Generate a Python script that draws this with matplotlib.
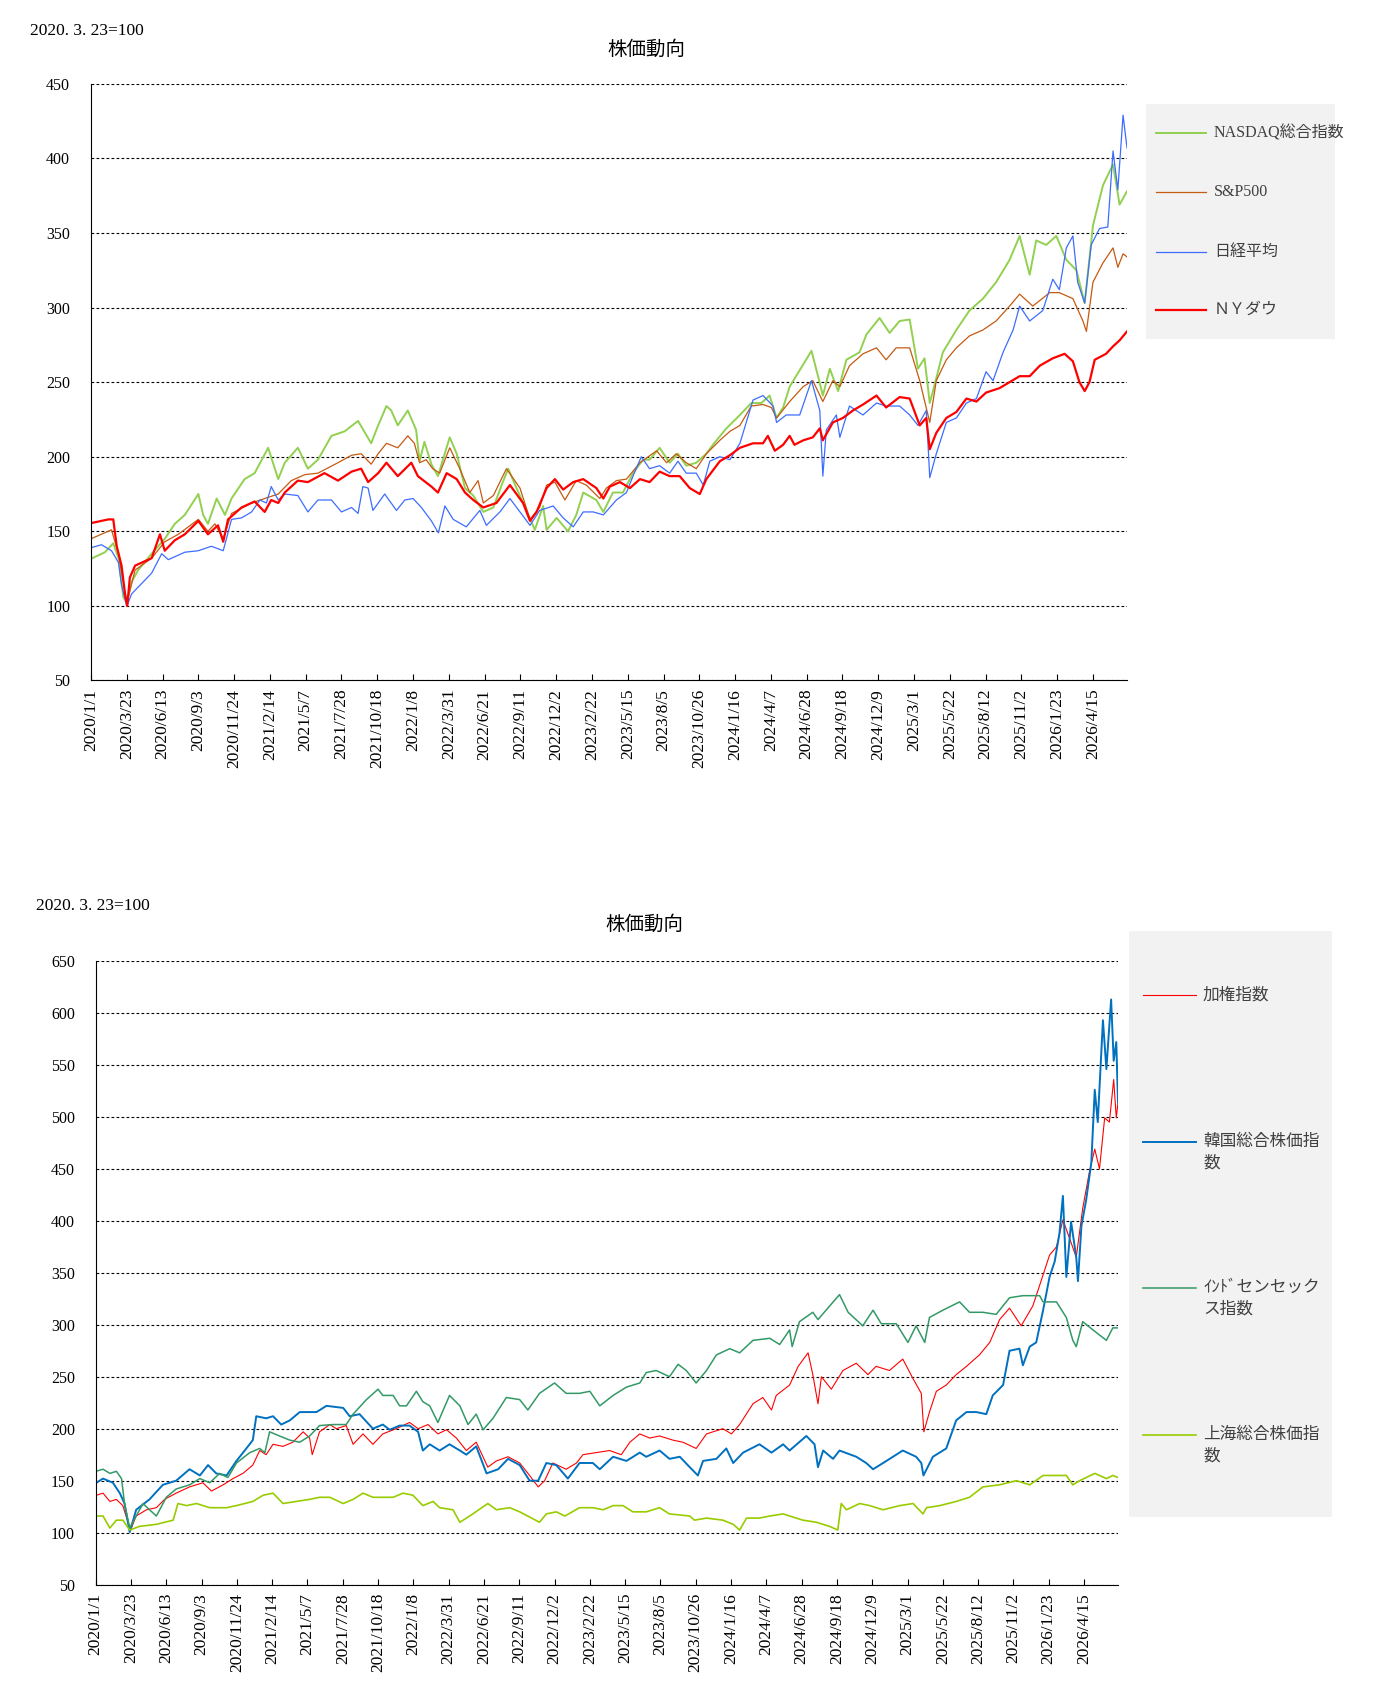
import numpy as np
import pandas as pd
import matplotlib
matplotlib.use('Agg')
import matplotlib.pyplot as plt
from matplotlib.lines import Line2D
from matplotlib.patches import Rectangle

plt.rcParams['font.family'] = ['Liberation Serif', 'Noto Sans CJK JP', 'DejaVu Sans']

W, H = 1378, 1685
BASE = pd.Timestamp('2020-01-01')

# (days since 2020/1/1, index with 2020/3/23 = 100)
nasdaq = [(0,131.6),(32,136),(51,142),(63,132),(74,106),(82,102),(93,116),(108,124),(139,135),(169,145),(192,155),(215,161),(246,175),(257,161),(268,155),(288,172),(307,161),(322,172),(352,185),(375,189),(406,206),(429,185),(444,196),(474,206),(497,192),(520,198),(551,214),(581,217),(612,224),(642,209),(658,221),(677,234),(688,231),(703,221),(726,231),(745,218),(753,197),(764,210),(780,195),(795,187),
          (822,213),(838,202),(857,179),(876,174),(899,163),(922,166),(941,181),(956,192),(975,179),(998,164),(1017,151),(1036,167),(1044,151),(1067,159),(1093,150),(1112,161),(1128,176),(1158,171),(1174,163),(1196,176),(1219,176),(1242,189),(1265,198),(1280,198),(1303,206),(1326,196),(1345,202),(1364,194),(1387,196),(1410,202),(1425,208),(1456,219),(1487,228),(1513,236),(1536,236),(1555,241),(1571,226),(1586,233),(1601,247),
          (1624,258),(1651,271),(1666,254),(1677,241),(1693,259),(1712,244),(1731,265),(1761,270),(1777,282),(1807,293),(1830,283),(1853,291),(1876,292),(1895,259),(1910,266),(1922,236),(1933,248),(1952,270),(1983,285),(2013,298),(2044,306),(2074,317),(2105,332),(2128,348),(2151,322),(2166,345),(2189,342),(2212,348),(2235,332),(2258,325),(2277,303),(2296,355),(2319,382),(2342,396),(2357,369),(2374,378)]

sp500 = [(0,145),(47,151),(63,135),(82,102),(101,124),(139,132),(169,143),(200,148),(246,158),(268,150),(284,155),(303,145),(322,162),(368,169),(398,172),(429,175),(459,184),(490,188),(520,189),(566,196),(597,201),(619,202),(642,195),(658,202),(677,209),(703,206),(726,214),(741,209),(753,196),(768,198),(783,192),
         (799,189),(822,206),(845,192),(868,176),(887,184),(899,169),(922,174),(952,192),(983,179),(1006,158),(1028,166),(1044,181),(1063,183),(1086,171),(1112,184),(1135,181),(1166,172),(1181,179),(1204,184),(1227,185),(1258,196),(1296,204),(1319,196),(1341,202),(1364,196),(1387,192),(1410,202),(1441,211),(1464,217),(1487,221),(1513,234),(1540,235),(1559,233),(1571,226),(1593,234),
         (1601,237),(1632,247),(1654,251),(1677,237),(1700,251),(1716,247),(1738,261),(1769,269),(1800,273),(1822,265),(1845,273),(1876,273),(1899,251),(1922,223),(1937,251),(1960,265),(1983,273),(2013,281),(2044,285),(2074,291),(2105,301),(2128,309),(2158,301),(2197,310),(2219,310),(2250,306),(2273,291),(2281,284),(2296,317),(2319,330),(2342,340),(2353,327),(2365,336),(2374,334)]

nikkei = [(0,139),(24,141),(47,137),(63,129),(70,114),(82,99.6),(93,108),(116,115),(139,122),(162,135),(177,131),(215,136),(246,137),(276,140),(303,137),(322,158),(345,159),(368,163),(387,171),(402,169),(413,180),(429,171),(444,175),(474,174),(497,163),(520,171),(551,171),(574,163),(597,166),(612,162),(623,180),(635,179),(646,164),(673,175),(700,164),(719,171),(738,172),(757,166),(780,157),(796,149),
          (811,167),(830,158),(860,153),(891,164),(906,154),(937,163),(960,172),(983,163),(1006,154),(1028,164),(1059,167),(1082,159),(1105,153),(1128,163),(1151,163),(1174,161),(1204,171),(1227,176),(1242,187),(1261,200),(1280,192),(1303,194),(1326,189),(1345,197),(1364,189),(1387,189),(1403,181),(1418,197),(1441,200),(1464,198),(1487,209),(1517,238),(1540,241),(1563,234),(1571,223),(1593,228),
          (1624,228),(1651,251),(1670,231),(1677,187),(1685,218),(1708,228),(1716,213),(1738,234),(1769,228),(1800,236),(1822,234),(1853,234),(1876,228),(1895,221),(1914,231),(1922,186),(1937,202),(1960,223),(1983,226),(2006,236),(2029,239),(2051,257),(2067,251),(2090,270),(2113,285),(2128,301),(2151,291),(2181,298),(2204,319),(2219,312),(2235,340),(2250,348),(2261,317),(2277,303),(2292,342),(2311,353),(2330,354),(2342,405),(2353,379),(2365,429),(2374,407)]

nydow = [(0,155.5),(40,158),(51,158),(59,140),(70,127),(78,108),(83,100),(89,119),(101,127),(139,132),(158,148),(169,137),(192,144),(215,148),(246,157),(268,148),(291,154),(303,143),(314,158),(345,166),(375,170),(398,163),(413,171),(429,169),(444,176),(474,184),(497,183),(535,189),(566,184),(597,190),(619,192),(635,183),(658,189),(677,196),(703,187),(734,196),(749,187),(780,180),(795,176),
         (815,189),(838,185),(857,176),(876,171),(899,166),(929,169),(960,181),(990,169),(1006,157),(1021,163),(1044,179),(1063,185),(1082,178),(1105,183),(1128,185),(1158,179),(1174,172),(1189,180),(1212,183),(1235,179),(1258,185),(1280,183),(1303,190),(1326,187),(1349,187),(1372,179),(1395,175),(1410,185),(1441,197),(1464,201),(1487,206),(1517,209),(1540,209),(1551,214),(1567,204),(1586,208),(1601,214),
         (1612,208),(1632,211),(1654,213),(1670,219),(1677,211),(1700,223),(1723,226),(1746,231),(1769,235),(1800,241),(1822,233),(1853,240),(1876,239),(1899,221),(1914,226),(1922,205),(1937,216),(1960,226),(1983,230),(2006,239),(2029,237),(2051,243),(2082,246),(2105,250),(2128,254),(2151,254),(2174,261),(2204,266),(2231,269),(2250,264),(2265,250),(2277,244),(2288,250),(2300,265),(2326,269),(2342,274),(2357,278),(2374,284)]

taiex = [(0,135.8),(17,138),(33,130),(48,132),(63,126),(75,110),(81,102.5),(94,116),(118,122),(141,124),(160,132),(187,138),(218,144),(249,148),(269,140),(296,146),(319,152),(342,157),(365,165),(381,179),(396,175),(412,185),(435,183),(458,187),(482,197),(497,191),(503,175),(520,197),(544,204),(559,200),(582,203),(598,185),(621,195),(644,185),(667,195),(698,200),(729,206),(749,200),(772,204),(795,195),
         (815,199),(838,191),(861,179),(884,187),(911,163),(931,169),(958,173),(985,167),(1008,155),(1028,144),(1043,150),(1062,167),(1093,161),(1117,167),(1132,175),(1163,177),(1194,179),(1221,175),(1241,187),(1264,195),(1287,191),(1310,193),(1341,189),(1364,187),(1395,181),(1419,195),(1457,200),(1477,195),(1496,204),(1527,224),(1550,230),(1570,218),(1581,232),
         (1612,242),(1632,260),(1655,273),(1666,252),(1678,224),(1686,250),(1709,238),(1736,256),(1767,263),(1794,252),(1813,260),(1844,256),(1875,267),(1899,248),(1918,234),(1924,197),(1937,216),(1953,236),(1976,242),(1999,252),(2023,260),(2053,271),(2077,283),(2100,305),(2123,316),(2150,299),(2177,318),(2193,338),(2216,367),(2232,375),(2247,401),(2266,379),(2278,365),(2293,412),(2309,448),(2321,469),(2332,450),(2344,499),(2355,495),(2365,536),(2371,499),(2375,514)]

kospi = [(0,147.6),(17,152),(40,148),(56,138),(67,128),(79,100.5),(94,122),(125,132),(156,146),(187,150),(218,161),(242,155),(261,165),(280,157),(304,155),(327,169),(350,181),(365,189),(373,212),(396,210),(412,212),(431,204),(451,208),(474,216),(513,216),(536,222),(575,220),(590,212),(613,214),(644,200),(667,204),(683,199),(706,203),(729,203),(749,197),(760,179),(776,185),(799,179),
         (822,185),(846,179),(861,175),(884,183),(908,157),(935,161),(958,171),(985,165),(1008,150),(1028,150),(1047,167),(1070,165),(1097,152),(1124,167),(1155,167),(1171,161),(1202,173),(1233,169),(1264,177),(1279,173),(1310,179),(1333,171),(1357,173),(1380,163),(1399,155),(1411,169),(1442,171),(1465,181),(1481,167),(1504,177),(1542,185),(1570,177),(1597,185),
         (1612,179),(1651,193),(1670,185),(1678,163),(1690,179),(1713,171),(1728,179),(1767,173),(1790,167),(1806,161),(1837,169),(1875,179),(1906,173),(1918,167),(1923,155),(1945,173),(1976,181),(1999,208),(2023,216),(2046,216),(2069,214),(2084,232),(2108,242),(2123,275),(2146,277),(2154,261),(2170,279),(2185,283),(2201,314),(2216,346),(2228,361),(2239,388),(2247,424),(2255,346),(2266,399),(2278,365),(2282,342),(2290,395),(2301,420),(2313,456),(2321,526),(2328,495),(2340,593),(2348,546),(2359,613),(2365,554),(2371,572),(2375,514)]

sensex = [(0,159),(17,161),(33,157),(48,159),(60,152),(67,128),(79,104.4),(94,116),(110,128),(125,122),(141,116),(164,134),(187,142),(218,146),(242,152),(265,148),(288,157),(307,153),(327,167),(358,177),(381,181),(393,177),(404,197),(427,193),(451,189),(474,187),(497,193),(520,203),(551,204),(582,204),(598,214),(629,228),(656,238),(667,232),(691,232),(706,222),(722,222),(745,236),(760,226),(776,222),(795,206),
          (822,232),(846,222),(865,204),(884,214),(900,199),(923,210),(954,230),(985,228),(1004,218),(1031,234),(1066,244),(1093,234),(1124,234),(1148,236),(1171,222),(1202,232),(1233,240),(1264,244),(1279,254),(1302,256),(1333,250),(1353,262),(1372,256),(1395,244),(1419,256),(1442,271),(1473,277),(1496,273),(1527,285),(1566,287),(1589,281),
          (1612,295),(1618,279),(1635,303),(1666,312),(1678,305),(1705,318),(1728,329),(1748,312),(1782,299),(1806,314),(1825,301),(1860,301),(1887,283),(1906,299),(1926,283),(1937,307),(1968,314),(2007,322),(2030,312),(2061,312),(2092,310),(2123,326),(2154,328),(2193,328),(2201,322),(2232,322),(2255,307),(2270,285),(2278,279),(2293,303),(2317,295),(2348,285),(2363,297),(2375,297)]

shanghai = [(0,116),(17,116),(33,104.4),(48,112),(63,112),(79,102.5),(102,106),(141,108),(180,112),(191,128),(211,126),(234,128),(265,124),(304,124),(327,126),(365,130),(389,136),(412,138),(435,128),(466,130),(497,132),(520,134),(544,134),(575,128),(598,132),(621,138),(644,134),(667,134),(691,134),(714,138),(737,136),(760,126),(784,130),
            (799,124),(830,122),(846,110),(869,116),(911,128),(931,122),(962,124),(985,120),(1031,110),(1047,118),(1070,120),(1090,116),(1124,124),(1155,124),(1179,122),(1202,126),(1225,126),(1248,120),(1279,120),(1310,124),(1333,118),(1380,116),(1391,112),(1419,114),(1457,112),(1481,108),(1496,102.5),(1512,114),(1542,114),(1566,116),(1597,118),
            (1612,116),(1643,112),(1674,110),(1705,106),(1724,102.5),(1732,128),(1744,122),(1775,128),(1798,126),(1829,122),(1868,126),(1899,128),(1922,118),(1930,124),(1961,126),(1999,130),(2030,134),(2061,144),(2100,146),(2139,150),(2170,146),(2201,155),(2232,155),(2255,155),(2270,146),(2286,150),(2321,157),(2348,152),(2363,155),(2375,153)]

top_series = [('NASDAQ総合指数', nasdaq, '#92d050', 1.4),
              ('S&P500', sp500, '#c55a11', 0.9),
              ('日経平均', nikkei, '#3d6dff', 0.9),
              ('ＮＹダウ', nydow, '#ff0000', 1.6)]
bottom_series = [('加権指数', taiex, '#ff0000', 0.8),
                 ('韓国総合株価指\n数', kospi, '#0070c0', 1.4),
                 ('ｲﾝﾄﾞセンセック\nス指数', sensex, '#339966', 1.1),
                 ('上海総合株価指\n数', shanghai, '#99cc00', 1.2)]

tick_dates = pd.date_range('2020-01-01', periods=29, freq='82D')


def fx(x):
    return x / W


def fy(y):
    return 1 - y / H


def unpack(pairs):
    d, v = zip(*pairs)
    return BASE + pd.to_timedelta(list(d), unit='D'), np.array(v)


def draw_chart(rect, series, ymax, xend):
    ax = fig.add_axes(rect)
    for label, pairs, color, lw in series:
        x, y = unpack(pairs)
        ax.plot(x, y, color=color, lw=lw)
    ax.set_ylim(50, ymax)
    ax.set_yticks(range(50, ymax + 1, 50))
    ax.set_xlim(BASE, BASE + pd.Timedelta(days=xend))
    ax.set_xticks(tick_dates)
    ax.set_xticklabels([f'{d.year}/{d.month}/{d.day}' for d in tick_dates], rotation=90)
    ax.grid(axis='y', color='black', linestyle=(0, (2.5, 2)), linewidth=0.8)
    ax.set_axisbelow(True)
    for s in ['top', 'right']:
        ax.spines[s].set_visible(False)
    ax.tick_params(axis='x', direction='in', length=4, pad=6, labelsize=12.5)
    ax.tick_params(axis='y', length=0, pad=15, labelsize=11.5)
    return ax


def draw_legend(box, series, line_x, text_x, ys, fs):
    x0, y0, x1, y1 = box
    fig.add_artist(Rectangle((fx(x0), fy(y1)), fx(x1) - fx(x0), fy(y0) - fy(y1),
                             transform=fig.transFigure, facecolor='#f2f2f2', edgecolor='none'))
    for (label, pairs, color, lw), y in zip(series, ys):
        fig.add_artist(Line2D([fx(line_x[0]), fx(line_x[1])], [fy(y), fy(y)],
                              transform=fig.transFigure, color=color, lw=lw))
        for i, part in enumerate(label.split('\n')):
            fig.text(fx(text_x), fy(y + i * 21.5), part, va='center', fontsize=fs, color='#404040')


fig = plt.figure(figsize=(W / 100, H / 100), dpi=100)

# upper chart
draw_chart([fx(91), fy(680.5), fx(1127) - fx(91), fy(83.8) - fy(680.5)], top_series, 450, 2374)
fig.text(fx(30), fy(31), '2020. 3. 23=100', va='center', fontsize=12.5)
fig.text(fx(646), fy(49.5), '株価動向', ha='center', va='center', fontsize=14)
draw_legend((1146, 104, 1335, 339), top_series, (1156, 1206), 1214, (133, 192, 252, 310), 11.5)

# lower chart
draw_chart([fx(95.7), fy(1584.6), fx(1118) - fx(95.7), fy(961) - fy(1584.6)], bottom_series, 650, 2375)
fig.text(fx(36.5), fy(906), '2020. 3. 23=100', va='center', fontsize=12.5)
fig.text(fx(644), fy(924.5), '株価動向', ha='center', va='center', fontsize=14)
draw_legend((1129, 931, 1332, 1517), bottom_series, (1143, 1196), 1203, (995.5, 1141.6, 1287.8, 1435), 12)

fig.savefig('out.png', dpi=100)
